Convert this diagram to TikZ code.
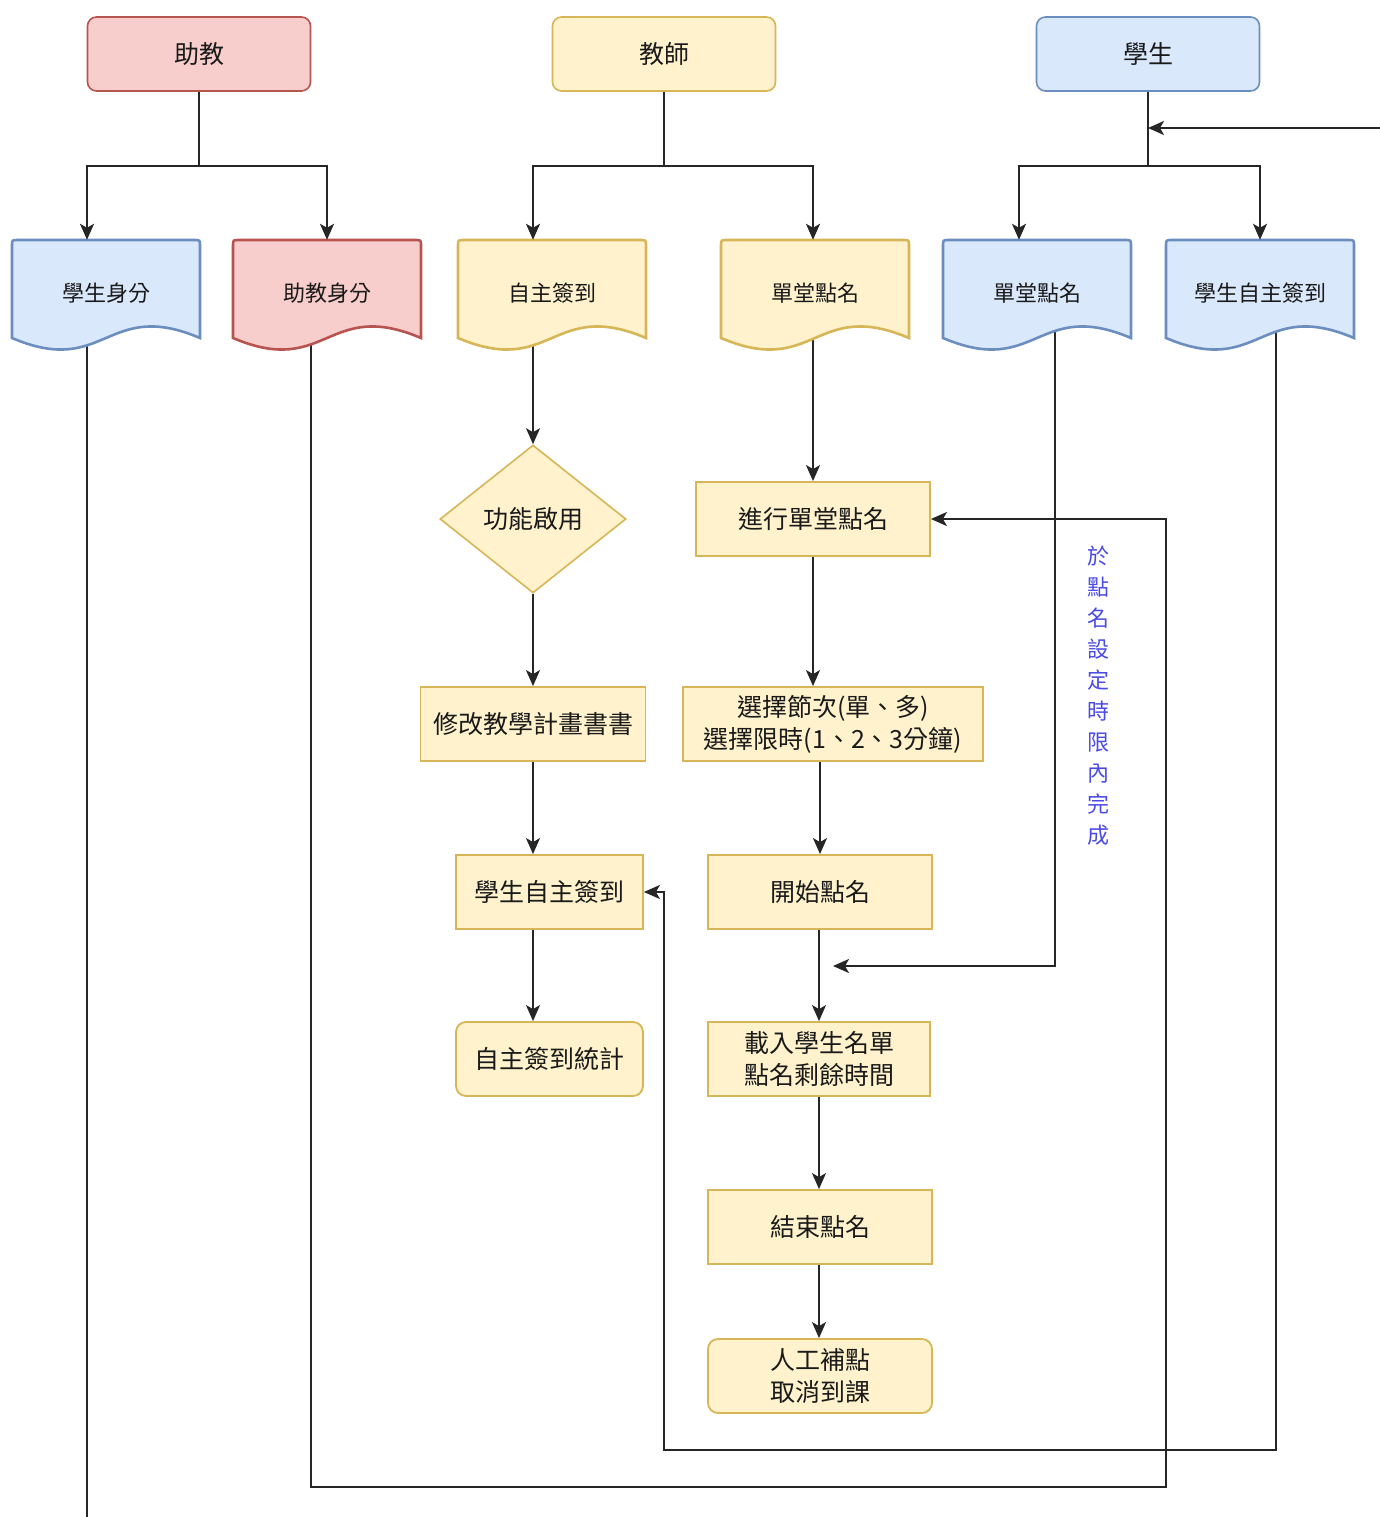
\documentclass[tikz,border=0pt]{standalone}
\usepackage{fontspec}
\setmainfont{Noto Sans CJK TC}
\usetikzlibrary{shapes.geometric,arrows.meta}
\pgfdeclarelayer{bgwhite}
\pgfdeclarelayer{bg}
\pgfsetlayers{bgwhite,bg,main}
\definecolor{redF}{HTML}{F8CECC}
\definecolor{redD}{HTML}{B85450}
\definecolor{yelF}{HTML}{FFF2CC}
\definecolor{yelD}{HTML}{D6B656}
\definecolor{bluF}{HTML}{DAE8FC}
\definecolor{bluD}{HTML}{6C8EBF}
\definecolor{txt}{HTML}{1A1A1A}
\definecolor{note}{HTML}{4A4AE6}
\newcommand\docpath[4]{%
  \filldraw[fill=#3,draw=#4,line width=2.6pt]
    (#1,338) -- (#1,246) .. controls (#1,240) .. ({#1+6},240)
    -- ({#2-6},240) .. controls (#2,240) .. (#2,246) -- (#2,338)
    .. controls ({(#1+#2)/2},298) and ({(#1+#2)/2},378) .. (#1,338) -- cycle;}
\begin{document}
\begin{tikzpicture}[x=1pt,y=-1pt,
  every node/.style={text=txt},
  big/.style={font=\fontsize{25}{32}\selectfont},
  small/.style={font=\fontsize{22}{28}\selectfont},
  topbox/.style={big,rounded corners=9pt,line width=1.6pt,minimum width=223,minimum height=74,inner sep=0pt},
  procbox/.style={big,draw=yelD,fill=yelF,line width=1.8pt,minimum height=74,inner sep=0pt,align=center},
  docnode/.style={small,minimum width=188,minimum height=106,inner sep=0pt},
  conn/.style={line width=1.9pt,draw=black!85},
  arr/.style={conn,-{Stealth[length=16pt,width=14pt,inset=4pt]}}]
\useasboundingbox (0,0) rectangle (1380,1517);
\begin{pgfonlayer}{bgwhite}
\fill[white] (0,0) rectangle (1380,1517);
\end{pgfonlayer}

% top role boxes
\node[topbox,fill=redF,draw=redD] (ta) at (199,54) {助教};
\node[topbox,fill=yelF,draw=yelD] (tt) at (664,54) {教師};
\node[topbox,fill=bluF,draw=bluD] (ts) at (1148,54) {學生};

% document shapes
\docpath{12}{200}{bluF}{bluD}
\docpath{233}{421}{redF}{redD}
\docpath{458}{646}{yelF}{yelD}
\docpath{721}{909}{yelF}{yelD}
\docpath{943}{1131}{bluF}{bluD}
\docpath{1166}{1354}{bluF}{bluD}
\node[docnode] (d1) at (106,293) {學生身分};
\node[docnode] (d2) at (327,293) {助教身分};
\node[docnode] (d3) at (552,293) {自主簽到};
\node[docnode] (d4) at (815,293) {單堂點名};
\node[docnode] (d5) at (1037,293) {單堂點名};
\node[docnode] (d6) at (1260,293) {學生自主簽到};

% left column
\node[big,diamond,draw=yelD,fill=yelF,line width=1.6pt,minimum width=186,minimum height=148,inner sep=0pt] (fn) at (533,519) {功能啟用};
\node[procbox,minimum width=225] (p1) at (533,724) {修改教學計畫書書};
\node[procbox,minimum width=187] (p2) at (549.5,892) {學生自主簽到};
\node[procbox,minimum width=187,rounded corners=10pt] (p3) at (549.5,1059) {自主簽到統計};

% right column
\node[procbox,minimum width=234] (q0) at (813,519) {進行單堂點名};
\node[procbox,minimum width=300] (q1) at (833,724) {選擇節次(單、多)\\選擇限時(1、2、3分鐘)};
\node[procbox,minimum width=224] (q2) at (820,892) {開始點名};
\node[procbox,minimum width=222] (q3) at (819,1059) {載入學生名單\\點名剩餘時間};
\node[procbox,minimum width=224] (q4) at (820,1227) {結束點名};
\node[procbox,minimum width=224,rounded corners=10pt] (q5) at (820,1376) {人工補點\\取消到課};

% vertical note
\node[font=\fontsize{22}{31}\selectfont,text=note,align=center,inner sep=0pt] (nt) at (1098,696)
  {於\\點\\名\\設\\定\\時\\限\\內\\完\\成};

% coordinates
\coordinate (fa) at (199,166);
\coordinate (ft) at (664,166);
\coordinate (fs) at (1148,166);
\coordinate (r0) at (1380,128);
\coordinate (bot) at (87,1517);
\coordinate (m1) at (833,966);
\coordinate (c2) at (1166,1487);
\coordinate (c6) at (664,1450);

% forks from role boxes
\draw[conn] (ta) -- (fa);
\draw[arr] (fa) -| ([xshift=-19]d1.north);
\draw[arr] (fa) -| (d2.north);
\draw[conn] (tt) -- (ft);
\draw[arr] (ft) -| ([xshift=-19]d3.north);
\draw[arr] (ft) -| ([xshift=-2]d4.north);
\draw[conn] (ts) -- (fs);
\draw[arr] (fs) -| ([xshift=-18]d5.north);
\draw[arr] (fs) -| (d6.north);
\draw[arr] (r0) -- (r0 -| ts.south);

% connectors behind documents
\begin{pgfonlayer}{bg}
\draw[conn] ([xshift=-19]d1.center) -- (bot);
\draw[arr] ([xshift=-16]d2.center) |- (c2) |- (q0.east);
\draw[arr] (fn.north |- d3.center) -- (fn.north);
\draw[arr] (q0.north |- d4.center) -- (q0.north);
\draw[arr] ([xshift=18]d5.center) |- (m1);
\draw[arr] ([xshift=16]d6.center) |- (c6) |- (p2.east);
\end{pgfonlayer}

% left flow
\draw[arr] (fn) -- (fn |- p1.north);
\draw[arr] (p1) -- (p1 |- p2.north);
\draw[arr] (p1 |- p2.south) -- (p1 |- p3.north);

% right flow
\draw[arr] (q0) -- (q0 |- q1.north);
\draw[arr] (q2 |- q1.south) -- (q2);
\draw[arr] (q3 |- q2.south) -- (q3);
\draw[arr] (q3) -- (q3 |- q4.north);
\draw[arr] (q3 |- q4.south) -- (q3 |- q5.north);
\end{tikzpicture}
\end{document}
